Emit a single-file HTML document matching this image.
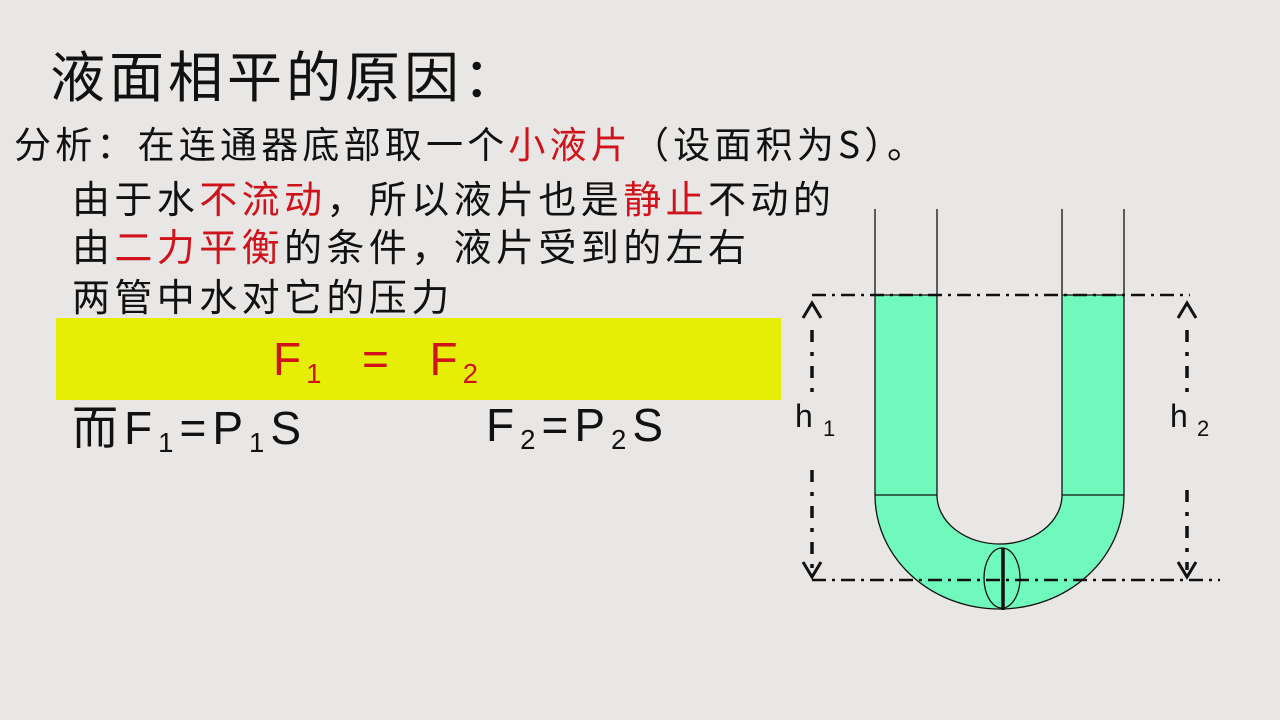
<!DOCTYPE html>
<html><head><meta charset="utf-8"><style>
body{margin:0;width:1280px;height:720px;background:#e9e7e5;position:relative;overflow:hidden;font-family:"Noto Sans CJK SC","Liberation Sans",sans-serif;color:#111}
.t{position:absolute;white-space:nowrap;line-height:1.2}
.r{color:#d0131b}
.f{font-family:"Liberation Sans",sans-serif}
sub{font-size:60%;vertical-align:baseline;position:relative;top:0.3em}
</style></head><body>
<div class="t" style="left:50px;top:40px;font-size:55px;letter-spacing:4px;font-weight:400">液面相平的原因：</div>
<div class="t" style="left:14px;top:120px;font-size:37px;letter-spacing:4.2px;font-weight:400">分析：在连通器底部取一个<span class="r">小液片</span>（设面积为S）。</div>
<div class="t" style="left:72px;top:174px;font-size:38px;letter-spacing:4.4px;font-weight:400">由于水<span class="r">不流动</span>，所以液片也是<span class="r">静止</span>不动的</div>
<div class="t" style="left:72px;top:222px;font-size:38px;letter-spacing:4.4px;font-weight:400">由<span class="r">二力平衡</span>的条件，液片受到的左右</div>
<div class="t" style="left:72px;top:272px;font-size:38px;letter-spacing:4.4px;font-weight:400">两管中水对它的压力</div>
<div style="position:absolute;left:56px;top:318px;width:725px;height:82px;background:#e6ee06"></div>
<div class="t r f" style="left:273px;top:332px;font-size:46px;letter-spacing:5px;">F<sub>1</sub>&nbsp; = &nbsp;F<sub>2</sub></div>
<div class="t f" style="left:72px;top:398px;font-size:46px;letter-spacing:6px;"><span style="font-family:'Noto Sans CJK SC'">而</span>F<sub>1</sub>=P<sub>1</sub>S</div>
<div class="t f" style="left:486px;top:398px;font-size:46px;letter-spacing:6px;">F<sub>2</sub>=P<sub>2</sub>S</div>
<svg width="1280" height="720" style="position:absolute;left:0;top:0">
<path d="M875 295 H937 V495 A62.5 49 0 0 0 1062 495 V295 H1124 V495 A124.5 114 0 0 1 875 495 Z" fill="#6ff9bc" stroke="#111" stroke-width="1.3"/>
<line x1="937" y1="495" x2="875" y2="495" stroke="#111" stroke-width="1.3"/>
<line x1="1062" y1="495" x2="1124" y2="495" stroke="#111" stroke-width="1.3"/>
<g stroke="#111" stroke-width="1.3">
<line x1="875" y1="209" x2="875" y2="295"/><line x1="937" y1="209" x2="937" y2="295"/>
<line x1="1062" y1="209" x2="1062" y2="295"/><line x1="1124" y1="209" x2="1124" y2="295"/>
</g>
<ellipse cx="1002" cy="578" rx="18" ry="30" fill="none" stroke="#111" stroke-width="1.3"/>
<line x1="1003" y1="548" x2="1003" y2="610" stroke="#111" stroke-width="3.5"/>
<g stroke="#111" stroke-width="2.5" stroke-dasharray="14 6 3 6" fill="none">
<line x1="812" y1="295" x2="1190" y2="295"/>
<line x1="812" y1="580" x2="1220" y2="580"/>
</g>
<g stroke="#111" stroke-width="3.5" stroke-dasharray="12 10 4 10" fill="none">
<line x1="812" y1="330" x2="812" y2="400"/><line x1="812" y1="470" x2="812" y2="570"/>
<line x1="1187" y1="330" x2="1187" y2="400"/><line x1="1187" y1="490" x2="1187" y2="570"/>
</g>
<g stroke="#111" stroke-width="3" fill="none">
<polyline points="803,318 812,303 821,318"/><polyline points="803,562 812,577 821,562"/>
<polyline points="1178,318 1187,303 1196,318"/><polyline points="1178,562 1187,577 1196,562"/>
</g>
<text x="795" y="427" font-size="32" font-family="Liberation Sans,sans-serif" fill="#111">h</text>
<text x="823" y="436" font-size="22" font-family="Liberation Sans,sans-serif" fill="#111">1</text>
<text x="1170" y="427" font-size="32" font-family="Liberation Sans,sans-serif" fill="#111">h</text>
<text x="1197" y="436" font-size="22" font-family="Liberation Sans,sans-serif" fill="#111">2</text>
</svg>
</body></html>
